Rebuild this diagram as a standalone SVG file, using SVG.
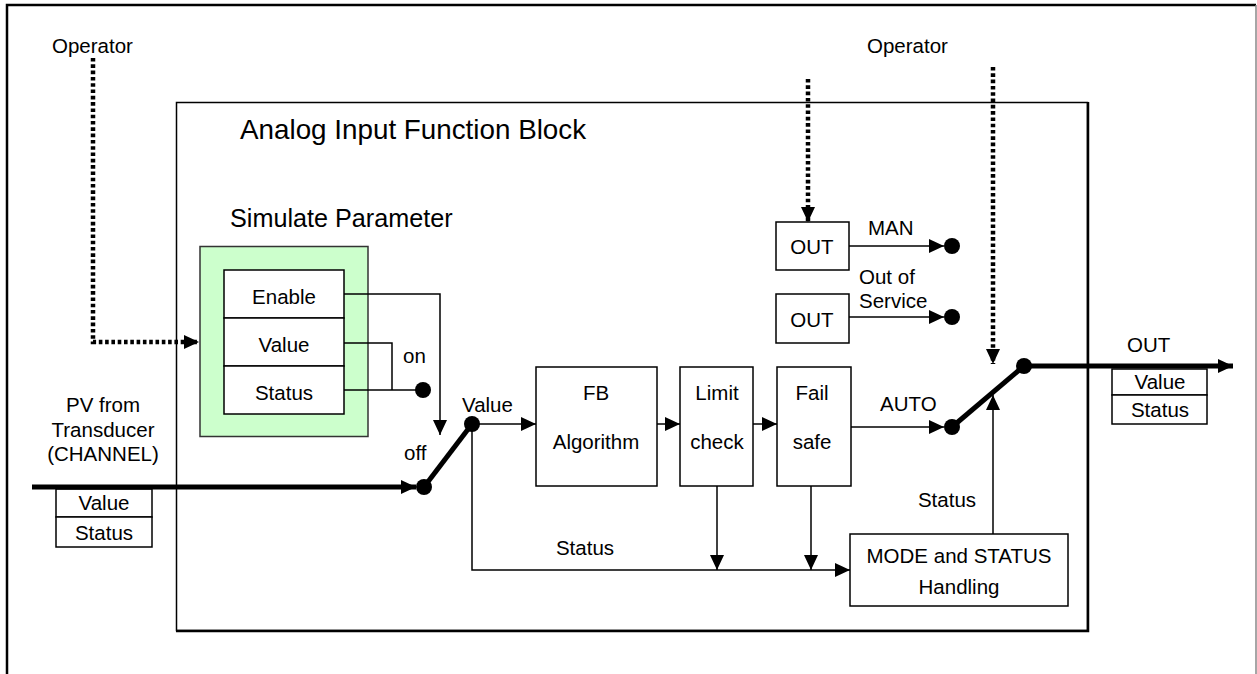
<svg xmlns="http://www.w3.org/2000/svg" width="1257" height="674" viewBox="0 0 1257 674">
<style>
text{font-family:"Liberation Sans",Arial,sans-serif;font-size:20.5px;fill:#000}
.c{text-anchor:middle}
.title{font-size:27.8px}
.sub{font-size:25.2px}
.box{fill:#fff;stroke:#000;stroke-width:1.5}
.ln{fill:none;stroke:#000;stroke-width:1.5}
.thick{fill:none;stroke:#000;stroke-width:5}
.dot{fill:none;stroke:#000;stroke-width:4.5;stroke-dasharray:3.6 2.7}
</style>
<defs>
<marker id="a" markerUnits="userSpaceOnUse" markerWidth="15" markerHeight="14" refX="15" refY="7" orient="auto"><path d="M0,0 L15,7 L0,14 Z" fill="#000"/></marker>
<marker id="ad" markerUnits="userSpaceOnUse" markerWidth="15" markerHeight="14" refX="15" refY="7" orient="auto"><path d="M0,0 L15,7 L0,14 Z" fill="#000"/></marker>
</defs>
<rect width="1257" height="674" fill="#fff"/>
<g id="frame">
<path d="M7,674 V5 H1256" fill="none" stroke="#000" stroke-width="2.5"/>
<line x1="1256" y1="5" x2="1256" y2="674" stroke="#888" stroke-width="1.5"/>
</g>
<g id="block">
<rect x="176.5" y="102.5" width="911" height="528" fill="none" stroke="#000" stroke-width="1.5"/>
<path d="M1088,102 V631 H176" fill="none" stroke="#000" stroke-width="2.5"/>
<text x="240" y="139" class="title">Analog Input Function Block</text>
</g>
<g id="operator-left"><text x="52" y="53">Operator</text></g>
<g id="operator-right"><text x="867" y="53">Operator</text></g>
<g id="simulate">
<text x="230" y="227" class="sub">Simulate Parameter</text>
<rect x="200" y="246.5" width="168" height="190" fill="#ccffcc" stroke="#333" stroke-width="1.5"/>
<rect x="224" y="270" width="120" height="48" class="box"/>
<rect x="224" y="318" width="120" height="48" class="box"/>
<rect x="224" y="366" width="120" height="48" class="box"/>
<text x="284" y="304" class="c">Enable</text>
<text x="284" y="352" class="c">Value</text>
<text x="284" y="400" class="c">Status</text>
</g>
<g id="pv-in">
<text x="103" y="412" class="c">PV from</text>
<text x="103" y="437" class="c">Transducer</text>
<text x="103" y="461" class="c">(CHANNEL)</text>
<rect x="56" y="489" width="96" height="28" class="box"/>
<rect x="56" y="517" width="96" height="30" class="box"/>
<text x="104" y="510" class="c">Value</text>
<text x="104" y="540" class="c">Status</text>
</g>
<g id="fb">
<rect x="536" y="367" width="121" height="119" class="box"/>
<text x="596" y="400" class="c">FB</text>
<text x="596" y="449" class="c">Algorithm</text>
</g>
<g id="limit">
<rect x="680" y="367" width="73" height="119" class="box"/>
<text x="717" y="400" class="c">Limit</text>
<text x="717" y="449" class="c">check</text>
</g>
<g id="failsafe">
<rect x="777" y="367" width="74" height="119" class="box"/>
<text x="812" y="400" class="c">Fail</text>
<text x="812" y="449" class="c">safe</text>
</g>
<g id="out-man">
<rect x="776" y="222" width="73" height="48" class="box"/>
<text x="812" y="254" class="c">OUT</text>
</g>
<g id="out-oos">
<rect x="776" y="294" width="73" height="49" class="box"/>
<text x="812" y="327" class="c">OUT</text>
</g>
<g id="mode">
<rect x="850" y="534" width="218" height="72" class="box"/>
<text x="959" y="563" class="c">MODE and STATUS</text>
<text x="959" y="594" class="c">Handling</text>
</g>
<g id="out-port">
<text x="1127" y="352">OUT</text>
<rect x="1112" y="369" width="95" height="26" class="box"/>
<rect x="1112" y="395" width="95" height="29" class="box"/>
<text x="1160" y="389" class="c">Value</text>
<text x="1160" y="417" class="c">Status</text>
</g>
<g id="connectors">
<polyline points="93,58 93,342 199,342" class="dot" marker-end="url(#ad)"/>
<line x1="808" y1="79" x2="808" y2="222" class="dot" marker-end="url(#ad)"/>
<line x1="993" y1="67" x2="993" y2="364" class="dot" marker-end="url(#ad)"/>
<polyline points="344,294 440,294 440,435" class="ln" marker-end="url(#a)"/>
<polyline points="344,343 392,343 392,390" class="ln"/>
<line x1="344" y1="390" x2="423" y2="390" class="ln"/>
<circle cx="423" cy="390" r="8"/>
<text x="403" y="363">on</text>
<line x1="32" y1="487" x2="416" y2="487" class="thick" marker-end="url(#a)"/>
<line x1="424" y1="487" x2="472" y2="424" class="thick"/>
<circle cx="424" cy="487" r="8"/>
<circle cx="472" cy="424" r="8"/>
<text x="404" y="460">off</text>
<text x="462" y="412">Value</text>
<line x1="472" y1="424" x2="536" y2="424" class="ln" marker-end="url(#a)"/>
<line x1="657" y1="424" x2="680" y2="424" class="ln" marker-end="url(#a)"/>
<line x1="753" y1="424" x2="777" y2="424" class="ln" marker-end="url(#a)"/>
<line x1="851" y1="427" x2="944" y2="427" class="ln" marker-end="url(#a)"/>
<text x="880" y="411">AUTO</text>
<polyline points="472,424 472,570 850,570" class="ln" marker-end="url(#a)"/>
<text x="585" y="555" class="c">Status</text>
<line x1="717" y1="486" x2="717" y2="570" class="ln" marker-end="url(#a)"/>
<line x1="811" y1="486" x2="811" y2="570" class="ln" marker-end="url(#a)"/>
<line x1="993" y1="534" x2="993" y2="395" class="ln" marker-end="url(#a)"/>
<text x="947" y="507" class="c">Status</text>
<line x1="849" y1="246" x2="944" y2="246" class="ln" marker-end="url(#a)"/>
<circle cx="952" cy="246" r="8"/>
<text x="868" y="235">MAN</text>
<line x1="849" y1="317" x2="944" y2="317" class="ln" marker-end="url(#a)"/>
<circle cx="952" cy="317" r="8"/>
<text x="859" y="284">Out of</text>
<text x="859" y="308">Service</text>
<line x1="952" y1="427" x2="1024" y2="366" class="thick"/>
<circle cx="952" cy="427" r="8"/>
<circle cx="1024" cy="366" r="8"/>
<line x1="1024" y1="366" x2="1233" y2="366" class="thick" marker-end="url(#a)"/>
</g>
</svg>
